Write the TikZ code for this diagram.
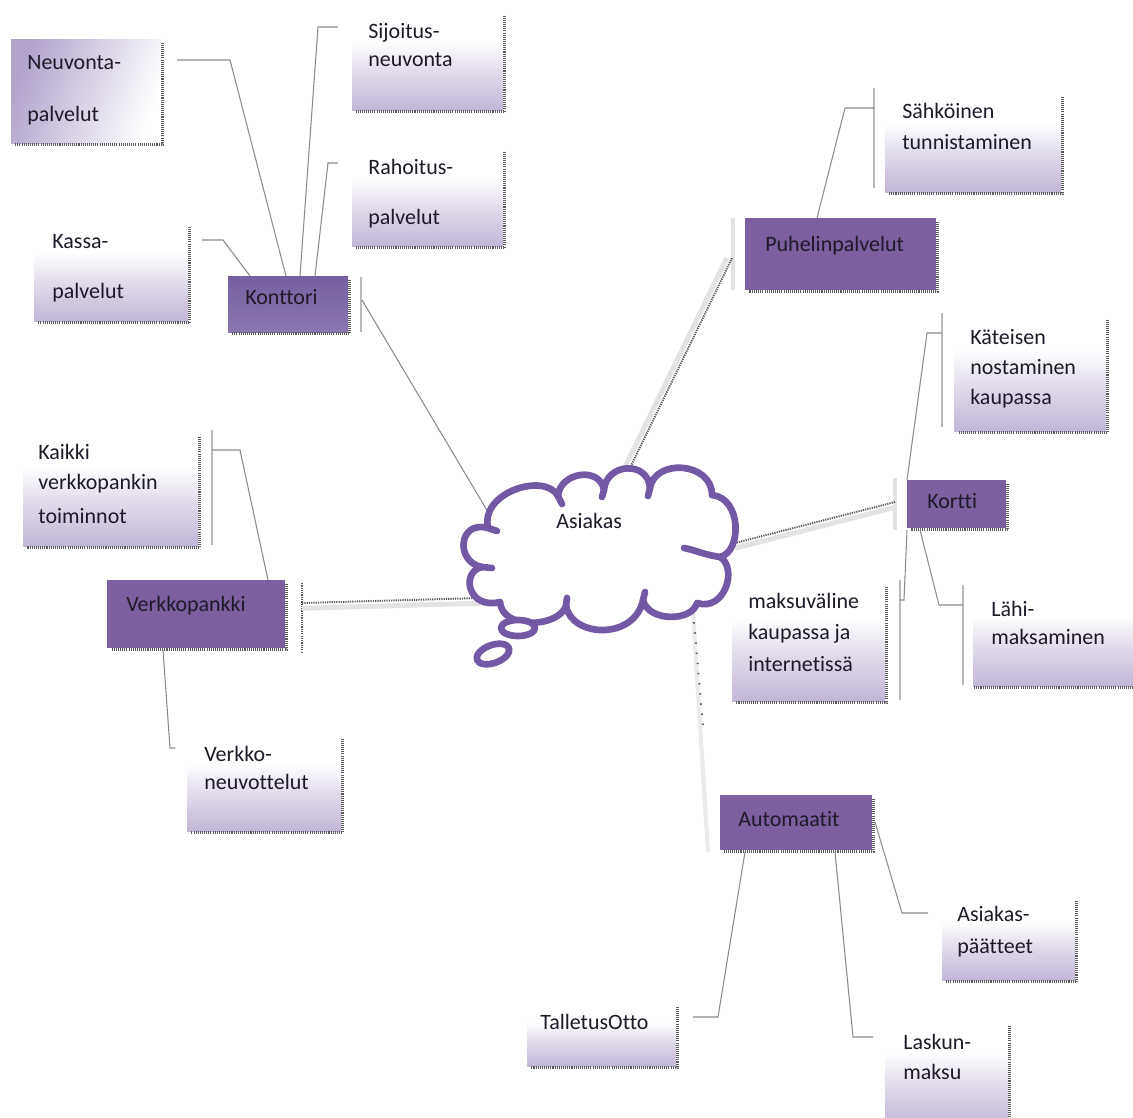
\documentclass[tikz,border=0pt]{standalone}
\usepackage{fontspec}
\setmainfont{Carlito}[Ligatures={NoCommon}]
\usetikzlibrary{fit}
\definecolor{boxpurple}{HTML}{7B5FA0}
\definecolor{cloudpurple}{HTML}{7358A6}
\definecolor{lavb}{HTML}{C2B6D6}
\definecolor{lavm}{HTML}{E2DCEB}
\definecolor{txt}{HTML}{1E1A28}
\definecolor{conn}{HTML}{8C8C8C}
\definecolor{band}{HTML}{E3E3E3}
\definecolor{shd}{HTML}{5C5C5C}
\definecolor{kontop}{HTML}{7660A2}
\definecolor{konmid}{HTML}{A090C0}
\definecolor{konbot}{HTML}{8A76B1}
\definecolor{neuvl}{HTML}{B1A3CB}
\pgfdeclareverticalshading{lightbox}{100bp}{color(0bp)=(lavb); color(25bp)=(lavb); color(45bp)=(lavm); color(60bp)=(white); color(75bp)=(white); color(100bp)=(white)}
\tikzset{
  lbox/.style={inner sep=0pt, shade, shading=lightbox, draw=none},
  dbox/.style={inner sep=0pt, fill=boxpurple, draw=none},
  kbox/.style={inner sep=0pt, top color=kontop, middle color=konmid, bottom color=konbot, draw=none},
  nbox/.style={inner sep=0pt, shade, shading=axis, left color=neuvl, right color=white, shading angle=70, draw=none},
  lbl/.style={anchor=base west, inner sep=0pt, text=txt, font=\fontsize{12.5}{14}\selectfont},
  ln/.style={draw=conn, line width=0.6pt},
  barln/.style={draw=gray!55, line width=0.9pt},
  lightbar/.style={draw=band, line width=2pt},
  bandln/.style={draw=band, line width=2.8pt},
  dotln/.style={draw=shd, line width=1.1pt, dash pattern=on 0.7pt off 0.6pt},
  shadowln/.style={draw=shd, line width=1.6pt, dash pattern=on 0.6pt off 0.6pt},
  cloudln/.style={draw=cloudpurple, line width=3.8pt, line join=round, line cap=round},
}
\newcommand\shadowRB[1]{\draw[shadowln] ([shift={(1.5,4)}]#1.north east) -- ([shift={(1.5,1.5)}]#1.south east) -- ([shift={(4,1.5)}]#1.south west);}
\begin{document}
\begin{tikzpicture}[x=0.02cm, y=-0.02cm]
\fill[white] (0,0) rectangle (1133,1117);
\useasboundingbox (0,0) rectangle (1133,1117);

% ---------- boxes ----------
\node[nbox, fit={(11,39) (161,143)}] (neuv) {};
\node[lbox, fit={(352,12) (503,110)}] (sijo) {};
\node[lbox, fit={(352,148) (503,246)}] (raho) {};
\node[lbox, fit={(34,223) (188,321)}] (kassa) {};
\node[kbox, fit={(228,276) (348,332)}] (kont) {};
\node[lbox, fit={(885,93) (1061,192)}] (sahk) {};
\node[dbox, fit={(745,218) (936,290)}] (puhe) {};
\node[lbox, fit={(954,316) (1106,431)}] (kate) {};
\node[dbox, fit={(907,480) (1006,528)}] (kort) {};
\node[lbox, fit={(973,586) (1140,686)}] (lahi) {};
\node[lbox, fit={(732,583) (885,701)}] (maks) {};
\node[lbox, fit={(23,433) (198,546)}] (kaik) {};
\node[dbox, fit={(107,580) (285,648)}] (verk) {};
\node[lbox, fit={(187,735) (341,831)}] (vneu) {};
\node[dbox, fit={(720,795) (872,850)}] (auto) {};
\node[lbox, fit={(942,897) (1075,980)}] (apaa) {};
\node[lbox, fit={(527,1003) (676,1066)}] (tall) {};
\node[lbox, fit={(885,1022) (1008,1125)}] (lask) {};

\shadowRB{neuv}\shadowRB{sijo}\shadowRB{raho}\shadowRB{kassa}\shadowRB{kont}
\shadowRB{sahk}\shadowRB{puhe}\shadowRB{kate}\shadowRB{kort}\shadowRB{maks}
\shadowRB{kaik}\shadowRB{verk}\shadowRB{vneu}\shadowRB{auto}\shadowRB{apaa}\shadowRB{tall}
\draw[shadowln] ([shift={(1.5,1.5)}]lahi.south west) -- ([shift={(0,1.5)}]lahi.south east);
\draw[shadowln] ([shift={(1.5,4)}]lask.north east) -- ([shift={(1.5,0)}]lask.south east);

% ---------- labels ----------
\node[lbl] (t1) at (27,69) {Neuvonta-};
\node[lbl] (t2) at (27,121) {palvelut};
\node[lbl] (t3) at (368,38) {Sijoitus-};
\node[lbl] (t4) at (368,66) {neuvonta};
\node[lbl] (t5) at (368,174) {Rahoitus-};
\node[lbl] (t6) at (368,224) {palvelut};
\node[lbl] (t7) at (52,248) {Kassa-};
\node[lbl] (t8) at (52,298) {palvelut};
\node[lbl] (t9) at (245,304) {Konttori};
\node[lbl] (t10) at (902,118) {Sähköinen};
\node[lbl] (t11) at (902,149) {tunnistaminen};
\node[lbl] (t12) at (765,251) {Puhelinpalvelut};
\node[lbl] (t13) at (970,344) {Käteisen};
\node[lbl] (t14) at (970,374) {nostaminen};
\node[lbl] (t15) at (970,404) {kaupassa};
\node[lbl] (t16) at (927,508) {Kortti};
\node[lbl] (t17) at (991,616) {Lähi-};
\node[lbl] (t18) at (991,644) {maksaminen};
\node[lbl] (t19) at (748,608) {maksuväline};
\node[lbl] (t20) at (748,639) {kaupassa ja};
\node[lbl] (t21) at (748,671) {internetissä};
\node[lbl] (t22) at (38,459) {Kaikki};
\node[lbl] (t23) at (38,489) {verkkopankin};
\node[lbl] (t24) at (38,523) {toiminnot};
\node[lbl] (t25) at (126,611) {Verkkopankki};
\node[lbl] (t26) at (204,761) {Verkko-};
\node[lbl] (t27) at (204,789) {neuvottelut};
\node[lbl] (t28) at (738,826) {Automaatit};
\node[lbl] (t29) at (957,921) {Asiakas-};
\node[lbl] (t30) at (957,953) {päätteet};
\node[lbl] (t31) at (540,1029) {TalletusOtto};
\node[lbl] (t32) at (903,1049) {Laskun-};
\node[lbl] (t33) at (903,1079) {maksu};

% ---------- connector end points ----------
\coordinate (cNeuv) at (177,60);
\coordinate (cSijo) at (338,27);
\coordinate (cRaho) at (338,163);
\coordinate (cKassa) at (202,240);
\coordinate (kA) at (286,276);
\coordinate (kB) at (300,276);
\coordinate (kC) at (315,276);
\coordinate (kD) at (250,276);
\coordinate (kR) at (362,300);
\coordinate (cloudNW) at (488,512);
\coordinate (cSahk) at (874,108);
\coordinate (pB) at (817,218);
\coordinate (pL) at (732,258);
\coordinate (cloudN) at (625,478);
\coordinate (cKate) at (942,333);
\coordinate (koTL) at (907,480);
\coordinate (koBL) at (907,530);
\coordinate (koB) at (920,530);
\coordinate (cMaks) at (900,600);
\coordinate (cLahi) at (963,605);
\coordinate (koL) at (895,502);
\coordinate (cloudE) at (735,543);
\coordinate (cKaik) at (212,450);
\coordinate (vT) at (268,580);
\coordinate (vB) at (163,650);
\coordinate (cVneu) at (175,748);
\coordinate (vR) at (302,603);
\coordinate (cloudW) at (480,598);
\coordinate (cloudS) at (693,612);
\coordinate (aL) at (708,852);
\coordinate (aB1) at (745,852);
\coordinate (aB2) at (835,852);
\coordinate (aR) at (875,822);
\coordinate (cTall) at (693,1017);
\coordinate (cLask) at (873,1037);
\coordinate (cApaa) at (928,913);

% ---------- bars ----------
\draw[barln] (361,277) -- (361,332);
\draw[barln] (874,88) -- (874,188);
\draw[lightbar] (733,218) -- (733,290);
\draw[barln] (942,313) -- (942,427);
\draw[lightbar] (895,478) -- (895,530);
\draw[barln] (900,580) -- (900,700);
\draw[barln] (963,585) -- (963,685);
\draw[barln] (212,430) -- (212,545);
\draw[dotln] (302,583) -- (302,653);

% ---------- thin connectors ----------
\draw[ln] (cNeuv) -- (230,60) -- (kA);
\draw[ln] (cSijo) -- (318,27) -- (kB);
\draw[ln] (cRaho) -- (328,163) -- (kC);
\draw[ln] (cKassa) -- (223,240) -- (kD);
\draw[ln] (kR) -- (cloudNW);
\draw[ln] (cSahk) -- (845,108) -- (pB);
\draw[ln] (cKate) -- (927,333) -- (koTL);
\draw[ln] (koBL) -- (904,600) -- (cMaks);
\draw[ln] (koB) -- (939,605) -- (cLahi);
\draw[ln] (cKaik) -- (240,450) -- (vT);
\draw[ln] (vB) -- (170,748) -- (cVneu);
\draw[ln] (aB1) -- (718,1017) -- (cTall);
\draw[ln] (aB2) -- (853,1037) -- (cLask);
\draw[ln] (aR) -- (902,913) -- (cApaa);

% ---------- thick shaded connectors ----------
\draw[bandln] ([xshift=-3]pL) -- ([xshift=-3]cloudN);
\draw[dotln] (pL) -- (cloudN);
\draw[bandln] ([yshift=-3]koL) -- ([yshift=-3]cloudE);
\draw[dotln] (koL) -- (cloudE);
\draw[bandln] ([yshift=-3]vR) -- ([yshift=-3]cloudW);
\draw[dotln] (vR) -- (cloudW);
\draw[draw=band!70!white, line width=2.4pt] (cloudS) -- (aL);
\draw[draw=shd, line width=1.1pt, dash pattern=on 0.8pt off 5pt] (cloudS) -- (703,725);

% ---------- cloud ----------
\draw[cloudln, fill=white]
  (488,528) .. controls (480,492) and (545,472) .. (558,496)
  .. controls (560,472) and (600,466) .. (604,490)
  .. controls (606,463) and (648,460) .. (650,488)
  .. controls (655,458) and (712,462) .. (712,495)
  .. controls (742,498) and (742,552) .. (720,557)
  .. controls (738,568) and (725,612) .. (697,603)
  .. controls (692,622) and (648,622) .. (643,600)
  .. controls (635,640) and (572,638) .. (566,606)
  .. controls (558,628) and (502,630) .. (500,602)
  .. controls (468,610) and (460,572) .. (482,567)
  .. controls (455,562) and (458,520) .. (488,528) -- cycle;
% inner ticks of the cloud
\draw[cloudln] (558,496) -- (562,504);
\draw[cloudln] (604,490) -- (602,497);
\draw[cloudln] (650,488) -- (648,496);
\draw[cloudln] (488,528) -- (497,531);
\draw[cloudln] (482,567) -- (492,568);
\draw[cloudln] (720,557) .. controls (705,555) and (695,550) .. (684,548);
\draw[cloudln] (643,600) -- (645,592);
\draw[cloudln] (566,606) -- (567,598);
% thought bubbles
\draw[cloudln, fill=white] (518,628) ellipse [x radius=17, y radius=8];
\draw[cloudln, fill=white, rotate around={20:(493,654)}] (493,654) ellipse [x radius=17, y radius=9];
\node[lbl] (asiakas) at (556,528) {Asiakas};
\end{tikzpicture}
\end{document}
